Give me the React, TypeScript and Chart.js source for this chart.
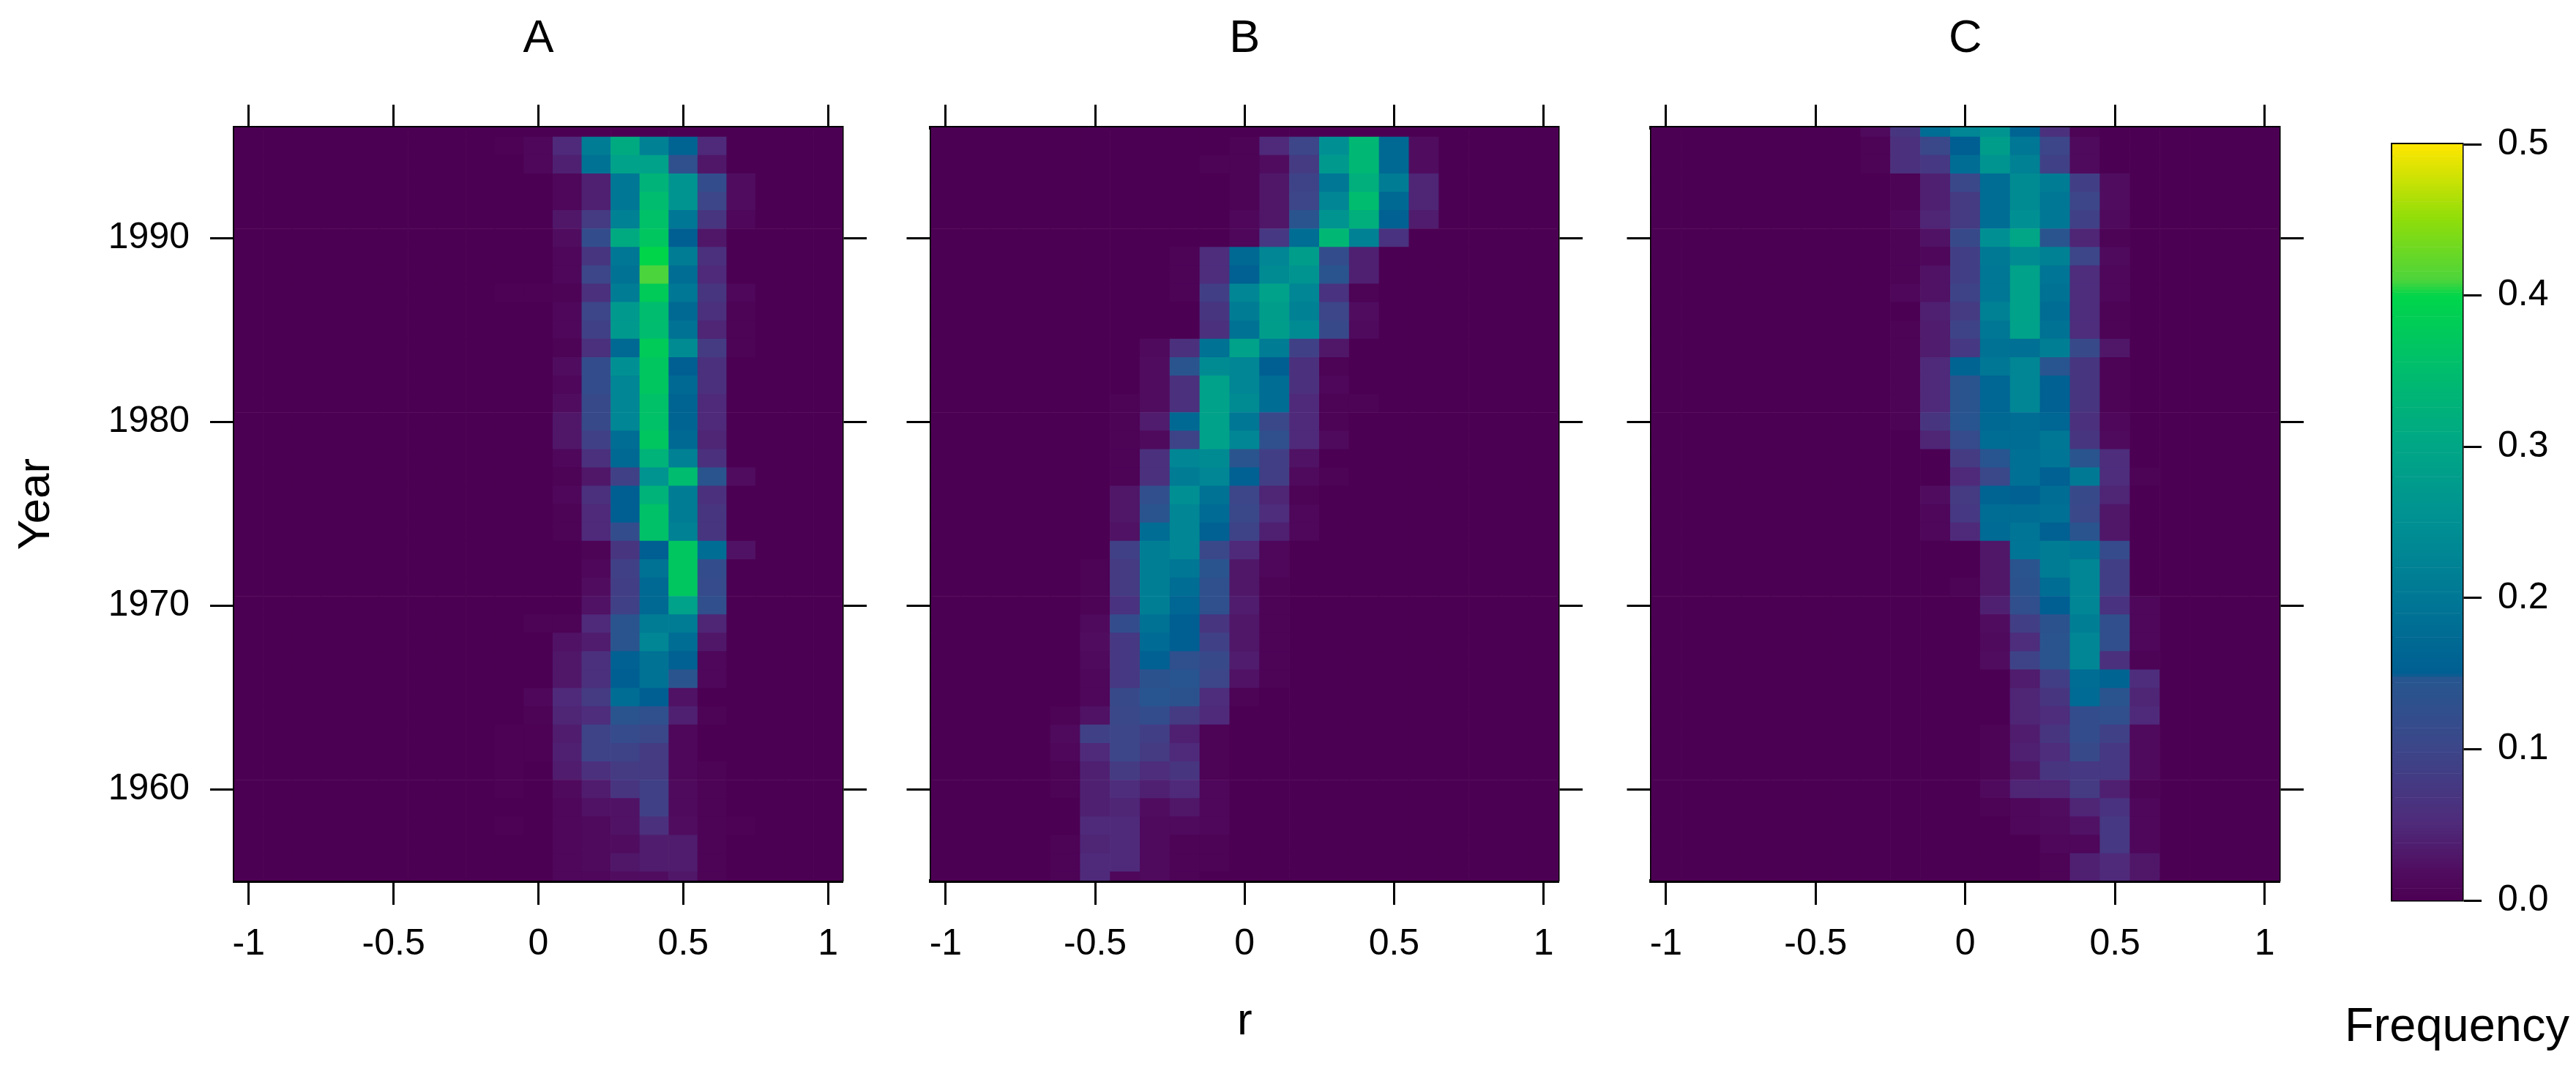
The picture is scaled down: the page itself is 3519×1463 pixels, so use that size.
import React, { useEffect, useRef } from "react";
import { Chart, registerables } from "chart.js";

Chart.register(...registerables);

const FONT = '"Liberation Sans", Arial, sans-serif';

// Row labels and column centres of the 2D histograms
const years = [1996, 1995, 1994, 1993, 1992, 1991, 1990, 1989, 1988, 1987, 1986, 1985, 1984, 1983, 1982, 1981, 1980, 1979, 1978, 1977, 1976, 1975, 1974, 1973, 1972, 1971, 1970, 1969, 1968, 1967, 1966, 1965, 1964, 1963, 1962, 1961, 1960, 1959, 1958, 1957, 1956, 1955];
const allR = [-1, -0.9, -0.8, -0.7, -0.6, -0.5, -0.4, -0.3, -0.2, -0.1, 0, 0.1, 0.2, 0.3, 0.4, 0.5, 0.6, 0.7, 0.8, 0.9, 1];

const xTicks = [-1, -0.5, 0, 0.5, 1];
const yTicks = [1960, 1970, 1980, 1990];
const freqTicks = [0, 0.1, 0.2, 0.3, 0.4, 0.5];

// Frequencies in percent. Each row is one year, from 1996 down to 1955.
const rColsA = [-0.1, 0, 0.1, 0.2, 0.3, 0.4, 0.5, 0.6, 0.7];
const freqA = [
  [0, 0, 0, 0, 0, 0, 0, 0, 0],
  [0.3, 1, 5, 21, 31, 22, 16, 5, 0],
  [0, 1, 4, 19, 29, 29, 13, 3, 0],
  [0, 0, 1, 4, 20, 33, 26, 12, 2],
  [0, 0, 1, 4, 20, 35, 26, 10, 2],
  [0, 0, 3, 8, 22, 36, 20, 7, 1],
  [0, 0, 2, 12, 31, 37, 15, 3, 0],
  [0, 0, 1, 7, 20, 40, 21, 6, 0],
  [0, 0, 1, 10, 19, 41, 18, 5, 0],
  [0.3, 0.3, 0.5, 6, 21, 38, 20, 7, 1],
  [0, 0, 1, 10, 27, 35, 17, 6, 0.5],
  [0, 0, 1, 9, 27, 35, 19, 4.5, 0.5],
  [0, 0, 0.5, 6, 17, 38, 24, 8, 0.5],
  [0, 0, 2, 12, 25, 37, 15, 6, 0],
  [0, 0, 1, 12, 23, 37, 17, 6, 0],
  [0, 0, 2, 11, 23, 36, 16, 5, 0],
  [0, 0, 3, 11, 23, 36, 16, 5, 0],
  [0, 0, 3, 9, 18, 37, 17, 4.5, 0],
  [0, 0, 1, 6, 17, 33, 22, 6, 0],
  [0, 0, 0.5, 3, 9, 26, 35, 14, 2],
  [0, 0, 1, 6, 15, 33, 21, 6, 0],
  [0, 0, 0.5, 5, 15, 36, 21, 7, 0],
  [0, 0, 0.5, 5, 12, 36, 22, 7, 0],
  [0, 0, 0, 0.5, 7, 15, 37, 18, 2.5],
  [0, 0, 0, 1, 9, 19, 37, 12, 0],
  [0, 0, 0, 2, 8.5, 17, 37, 11.5, 0],
  [0, 0, 0, 2.5, 9, 17, 29, 12.5, 0],
  [0, 0.5, 0.5, 5, 14, 21, 21, 4.5, 0],
  [0, 0, 2.5, 3.5, 14, 23, 18, 3, 0],
  [0, 0, 3, 6, 15.5, 19, 15.5, 1, 0],
  [0, 0, 3, 6, 15, 19, 14, 1, 0],
  [0, 1, 5, 8, 18, 15, 2.5, 0, 0],
  [0, 0.5, 4.5, 5.5, 14, 13, 4, 0.5, 0],
  [0.3, 0.3, 3.5, 9.5, 11.5, 10.5, 1, 0, 0],
  [0.3, 0.3, 4, 9.5, 9.5, 8, 1, 0, 0],
  [0.3, 0, 3.5, 6, 8, 8, 1, 0.5, 0],
  [0.3, 0, 1.5, 3.5, 7, 9, 1.5, 0.5, 0],
  [0, 0, 1, 2.5, 2.5, 9, 1.5, 0.5, 0],
  [0.3, 0, 1, 1.5, 2.5, 6, 2, 0.5, 0.3],
  [0, 0, 1, 1.5, 2, 3.5, 3.5, 0.5, 0],
  [0, 0, 1, 1.5, 3, 3.5, 3.5, 0.5, 0],
  [0, 0, 1, 1, 2, 2, 3, 0.5, 0],
];

const rColsB = [-0.6, -0.5, -0.4, -0.3, -0.2, -0.1, 0, 0.1, 0.2, 0.3, 0.4, 0.5, 0.6];
const freqB = [
  [0, 0, 0, 0, 0, 0, 0, 0, 0, 0, 0, 0, 0],
  [0, 0, 0, 0, 0, 0, 0.5, 5, 10, 25, 34, 17, 2],
  [0, 0, 0, 0, 0, 0.5, 0.5, 2, 8, 27, 34, 17, 2],
  [0, 0, 0, 0, 0, 0, 0.5, 3, 9.5, 20, 32, 21, 4.5],
  [0, 0, 0, 0, 0, 0, 0.5, 3, 10, 23, 35, 17, 4.5],
  [0, 0, 0, 0, 0, 0, 1, 3, 14, 26, 32, 15.5, 3.5],
  [0, 0, 0, 0, 0, 0, 1, 7.5, 18, 34, 22, 6.5, 0],
  [0, 0, 0, 0, 0.5, 5.5, 17, 23, 28, 12, 4, 0, 0],
  [0, 0, 0, 0, 0.5, 5.5, 15.5, 24, 26, 14, 4, 0, 0],
  [0, 0, 0, 0, 0.5, 8.5, 23, 29, 23, 6.5, 0.5, 0, 0],
  [0, 0, 0, 0, 0, 7, 21, 28, 22, 10, 2, 0, 0],
  [0, 0, 0, 0, 0, 6, 19, 28, 24, 11, 1.5, 0, 0],
  [0, 0, 0, 1.5, 6, 19, 29, 21, 9, 3, 0, 0, 0],
  [0, 0, 0, 2, 14, 24, 23, 15, 6, 0.5, 0, 0, 0],
  [0, 0, 0, 2, 6, 29, 23, 18, 6, 1, 0, 0, 0],
  [0, 0, 0.5, 2, 6, 29, 24, 18, 5, 0.5, 0.5, 0, 0],
  [0, 0, 0.5, 3.5, 17, 29, 20, 10.5, 5, 0.5, 0, 0, 0],
  [0, 0, 0.5, 1.5, 9.5, 29, 23, 13, 5, 1.5, 0, 0, 0],
  [0, 0, 0.5, 6, 23, 24, 14, 8.5, 2.5, 0, 0, 0, 0],
  [0, 0, 0.5, 6, 21, 23, 15.5, 8.5, 1.5, 0.5, 0, 0, 0],
  [0, 0, 3, 12.5, 25, 19, 10, 4.5, 0.5, 0, 0, 0, 0],
  [0, 0, 3, 14, 23, 17.5, 10.5, 5.5, 1, 0, 0, 0, 0],
  [0, 0, 2.5, 18, 23, 15.5, 9.5, 4, 1, 0, 0, 0, 0],
  [0, 0, 9, 21.5, 23, 10.5, 5, 1, 0, 0, 0, 0, 0],
  [0, 0.5, 8, 21.5, 20, 14, 3, 1, 0, 0, 0, 0, 0],
  [0, 0.5, 8, 21.5, 18, 13, 3, 0.5, 0, 0, 0, 0, 0],
  [0, 0.5, 6.5, 21.5, 16.5, 13, 3.5, 0.5, 0, 0, 0, 0, 0],
  [0, 1.5, 12, 19, 15, 7, 3, 0.5, 0, 0, 0, 0, 0],
  [0, 2, 7.5, 17.5, 15, 9, 3, 0.5, 0, 0, 0, 0, 0],
  [0, 1.5, 7.5, 15.5, 13, 11, 3.5, 0.5, 0, 0, 0, 0, 0],
  [0, 1, 7.5, 13.5, 14.5, 10, 2.5, 0.5, 0, 0, 0, 0, 0],
  [0, 1, 11, 14.5, 13.5, 5.5, 0.5, 0, 0, 0, 0, 0, 0],
  [0.5, 2.5, 10.5, 12, 8, 5, 0, 0, 0, 0, 0, 0, 0],
  [1.5, 9, 10, 8.5, 4, 0.5, 0, 0, 0, 0, 0, 0, 0],
  [1, 5, 10, 8, 5, 0.5, 0, 0, 0, 0, 0, 0, 0],
  [0.5, 4, 8, 5.5, 7, 0.5, 0, 0, 0, 0, 0, 0, 0],
  [0.5, 4, 5.5, 4, 5, 1, 0, 0, 0, 0, 0, 0, 0],
  [0, 4, 4.5, 2, 3, 1, 0, 0, 0, 0, 0, 0, 0],
  [0, 5, 5, 1.5, 1.5, 1, 0, 0, 0, 0, 0, 0, 0],
  [0.5, 4.5, 5, 1.5, 0.5, 0.5, 0, 0, 0, 0, 0, 0, 0],
  [0.5, 5, 5, 1.5, 0.5, 0.5, 0, 0, 0, 0, 0, 0, 0],
  [0.5, 5, 1, 1.5, 0.5, 0, 0, 0, 0, 0, 0, 0, 0],
];

const rColsC = [-0.3, -0.2, -0.1, 0, 0.1, 0.2, 0.3, 0.4, 0.5, 0.6];
const freqC = [
  [1.5, 7, 18, 23, 26, 16, 6, 0.5, 0, 0],
  [0.5, 6, 10.5, 15, 28, 20, 10, 1.5, 0, 0],
  [0.5, 6, 7.5, 18, 26, 22, 9, 1.5, 0, 0],
  [0, 0.5, 4, 10.5, 18, 24, 21, 8.5, 2, 0],
  [0, 0.5, 4, 8, 18, 24, 20, 10, 2, 0],
  [0, 1, 4.5, 8, 18, 25, 20, 9, 1.5, 0],
  [0, 0.5, 2.5, 11, 25, 30, 14, 4.5, 0.5, 0],
  [0, 0.5, 1, 8.5, 20.5, 24, 22, 10, 1.5, 0],
  [0, 0.5, 2.5, 8.5, 20, 29, 19.5, 5.5, 1, 0],
  [0, 1, 2.5, 9.5, 20, 29, 19, 5.5, 1, 0],
  [0, 0, 4, 8, 22, 29, 18, 5.5, 0.5, 0],
  [0, 0.5, 3.5, 9.5, 20, 29, 19, 5.5, 0.5, 0],
  [0, 0.5, 3.5, 7.5, 19, 18.5, 21.5, 11, 3, 0],
  [0, 0.5, 5, 16, 20, 23, 14.5, 7, 0.5, 0],
  [0, 0.5, 5, 14, 16.5, 23, 15.5, 7, 0.5, 0],
  [0, 0.5, 5, 14, 16.5, 23, 15.5, 7, 0.5, 0],
  [0, 0.5, 7, 14.5, 17, 18, 16.5, 6, 1, 0],
  [0, 0, 4.5, 11.5, 18, 18, 20, 7, 1.5, 0],
  [0, 0, 0, 8, 14.5, 18.5, 19.5, 14, 5.5, 0],
  [0, 0, 0, 5, 10.5, 18.5, 15.5, 20.5, 5.5, 0.5],
  [0, 0, 2, 8, 16, 15.5, 18, 11, 4.5, 0],
  [0, 0, 1, 7.5, 18, 18, 18.5, 10.5, 3, 0],
  [0, 0, 1, 5, 17.5, 19.5, 15.5, 14, 3, 0],
  [0, 0, 0, 0, 3, 19.5, 21, 20, 11.5, 0],
  [0, 0, 0, 0, 3, 14, 21, 23, 8.5, 0],
  [0, 0, 0, 0.5, 3, 13.5, 18, 23, 8.5, 0],
  [0, 0, 0, 0, 4, 12.5, 15, 23, 6.5, 1],
  [0, 0, 0, 0, 2, 8.5, 13.5, 21.5, 12.5, 1],
  [0, 0, 0, 0, 1.5, 5.5, 14, 23, 12.5, 1],
  [0, 0, 0, 0, 2, 9.5, 14, 23, 6, 0.5],
  [0, 0, 0, 0, 0, 3.5, 8.5, 18, 16, 5.5],
  [0, 0, 0, 0, 0, 4.5, 7, 17.5, 14, 4.5],
  [0, 0, 0, 0, 0, 4.5, 5.5, 12, 12.5, 5],
  [0, 0, 0, 0, 0.5, 3.5, 7, 12, 9, 1.5],
  [0, 0, 0, 0, 0.5, 4, 5.5, 11, 7.5, 1.5],
  [0, 0, 0, 0, 0.5, 3, 7, 7.5, 7.5, 1.5],
  [0, 0, 0, 0, 1.5, 4.5, 4.5, 8, 4, 0.5],
  [0, 0, 0, 0, 0.5, 1, 2, 4.5, 6.5, 1],
  [0, 0, 0, 0, 0, 1, 1.5, 2.5, 7.5, 1],
  [0, 0, 0, 0, 0, 0, 1, 1, 7.5, 1],
  [0, 0, 0, 0, 0, 0, 0.5, 4, 5, 3],
  [0, 0, 0, 0, 0, 0, 0.5, 4, 5, 3],
];

// Colour key of the reference (value, colour)
const stopValues = [0, 0.02, 0.05, 0.1, 0.147, 0.15, 0.2, 0.25, 0.3, 0.35, 0.4, 0.41, 0.45, 0.5];
const stopColors = ["#4C0053", "#500D60", "#4F2A7A", "#3C4689", "#27568F", "#005F92", "#007795", "#009093", "#00A686", "#00BC6E", "#00D54A", "#4CD43C", "#8EDD0A", "#FFE600"];

function hexToRgb(h: string) {
  return [1, 3, 5].map((i) => parseInt(h.slice(i, i + 2), 16));
}

function colorOf(v: number) {
  for (let i = 1; i < stopValues.length; i++) {
    if (v <= stopValues[i]) {
      const t = (v - stopValues[i - 1]) / (stopValues[i] - stopValues[i - 1]);
      const a = hexToRgb(stopColors[i - 1]);
      const b = hexToRgb(stopColors[i]);
      const c = a.map((x, k) => Math.round(x + (b[k] - x) * t));
      return `rgb(${c[0]},${c[1]},${c[2]})`;
    }
  }
  return stopColors[stopColors.length - 1];
}

function cells(cols: number[], matrix: number[][]) {
  const pts: { x: number; y: number[]; v: number }[] = [];
  years.forEach((yr, i) => {
    allR.forEach((r) => {
      const j = cols.indexOf(r);
      const v = j >= 0 ? matrix[i][j] / 100 : 0;
      pts.push({ x: r, y: [yr - 0.5, yr + 0.5], v });
    });
  });
  return pts;
}

const tickGrid = (len: number, width = 3) => ({
  display: true,
  offset: false,
  drawOnChartArea: false,
  drawTicks: true,
  tickLength: len,
  tickWidth: width,
  tickColor: "#000",
});
const frameH = { display: true, color: "#000", width: 5 };
const frameV = { display: true, color: "#000", width: 3.5 };

type PanelDef = {
  cols: number[];
  matrix: number[][];
  title: string;
  canvasLeft: number;
  canvasWidth: number;
  left: number;
  right: number;
  showYLabels?: boolean;
  xTitle?: string;
  yTitle?: string;
};

const TOP = 174;
const BOTTOM = 1203;
const H = 1463;

const panels: PanelDef[] = [
  { cols: rColsA, matrix: freqA, title: "A", canvasLeft: 0, canvasWidth: 1200, left: 320, right: 1151, showYLabels: true, yTitle: "Year" },
  { cols: rColsB, matrix: freqB, title: "B", canvasLeft: 1200, canvasWidth: 980, left: 1271.5, right: 2129, xTitle: "r" },
  { cols: rColsC, matrix: freqC, title: "C", canvasLeft: 2190, canvasWidth: 980, left: 2255.5, right: 3114 },
];

function Panel({ p }: { p: PanelDef }) {
  const ref = useRef<HTMLCanvasElement>(null);
  useEffect(() => {
    const pts = cells(p.cols, p.matrix);
    const fixW = (w: number) => (s: any) => { s.width = w; };
    const fixH = (h: number) => (s: any) => { s.height = h; };
    const xRange = { type: "linear", min: -1.05, max: 1.05, offset: false };
    const yRange = { type: "linear", min: 1955.02, max: 1996.02 };
    const setX = (s: any) => { s.ticks = xTicks.map((value) => ({ value })); };
    const setY = (s: any) => { s.ticks = yTicks.map((value) => ({ value })); };
    const chart = new Chart(ref.current as HTMLCanvasElement, {
      type: "bar",
      data: {
        datasets: [{
          data: pts as any,
          backgroundColor: pts.map((c) => colorOf(c.v)),
          barPercentage: 1,
          categoryPercentage: 1,
          grouped: false,
          borderWidth: 0,
          xAxisID: "x",
          yAxisID: "y",
        }],
      },
      options: {
        animation: false,
        responsive: false,
        layout: { padding: 0 },
        plugins: { legend: { display: false }, title: { display: false }, tooltip: { enabled: false } },
        scales: {
          x: {
            ...xRange, position: "bottom", afterBuildTicks: setX, afterFit: fixH(H - BOTTOM),
            grid: tickGrid(33), border: frameH,
            ticks: { color: "#000", font: { family: FONT, size: 50 }, padding: 24, maxRotation: 0, autoSkip: false, callback: (v: any) => String(v) },
            title: p.xTitle ? { display: true, text: p.xTitle, color: "#000", font: { family: FONT, size: 62, lineHeight: 1 }, padding: { top: 0, bottom: 36 } } : { display: false },
          },
          xTop: {
            ...xRange, position: "top", afterBuildTicks: setX, afterFit: fixH(TOP),
            grid: tickGrid(31), border: frameH,
            ticks: { display: false },
            title: { display: true, text: p.title, color: "#000", font: { family: FONT, size: 63, lineHeight: 1 }, padding: { top: 22, bottom: 22 } },
          },
          y: {
            ...yRange, position: "left", afterBuildTicks: setY, afterFit: fixW(p.left - p.canvasLeft),
            grid: tickGrid(33), border: frameV,
            ticks: { display: !!p.showYLabels, color: "#000", font: { family: FONT, size: 50 }, padding: 28, autoSkip: false, callback: (v: any) => String(v) },
            title: p.yTitle ? { display: true, text: p.yTitle, color: "#000", font: { family: FONT, size: 62, lineHeight: 1 }, padding: { top: 19, bottom: 19 } } : { display: false },
          },
          yRight: {
            ...yRange, position: "right", afterBuildTicks: setY, afterFit: fixW(p.canvasLeft + p.canvasWidth - p.right),
            grid: tickGrid(33), border: frameV,
            ticks: { display: false },
          },
        },
      } as any,
    });
    return () => chart.destroy();
  }, [p]);
  return (
    <canvas
      ref={ref}
      width={p.canvasWidth}
      height={H}
      style={{ position: "absolute", left: p.canvasLeft, top: 0, width: p.canvasWidth, height: H }}
    />
  );
}

function ColorKey() {
  const ref = useRef<HTMLCanvasElement>(null);
  useEffect(() => {
    const levels: { x: string; y: number[]; v: number }[] = [];
    for (let i = 0; i < 250; i++) {
      const lo = i * 0.002;
      levels.push({ x: "key", y: [lo, lo + 0.002], v: lo + 0.001 });
    }
    const canvasLeft = 3200;
    const canvasRight = 3510;
    const keyLeft = 3268;
    const keyRight = 3364;
    const keyTop = 197;
    const keyBottom = 1230;
    const titleBox = 65 + 26;
    const chart = new Chart(ref.current as HTMLCanvasElement, {
      type: "bar",
      data: {
        labels: ["key"],
        datasets: [{
          data: levels as any,
          backgroundColor: levels.map((c) => colorOf(c.v)),
          barPercentage: 1,
          categoryPercentage: 1,
          grouped: false,
          borderWidth: 0,
        }],
      },
      options: {
        animation: false,
        responsive: false,
        layout: { padding: 0 },
        plugins: {
          legend: { display: false },
          tooltip: { enabled: false },
          title: {
            display: true, position: "bottom", align: "end", text: "Frequency", color: "#000",
            font: { family: FONT, size: 65, weight: "normal", lineHeight: 1 }, padding: { top: 0, bottom: 26 },
          },
        },
        scales: {
          x: {
            type: "category", position: "bottom", afterFit: (s: any) => { s.height = H - keyBottom - titleBox; },
            grid: { display: false }, border: { ...frameV }, ticks: { display: false },
          },
          xTop: {
            type: "category", labels: ["key"], position: "top", afterFit: (s: any) => { s.height = keyTop; },
            grid: { display: false }, border: { ...frameV }, ticks: { display: false },
          },
          yLeft: {
            type: "linear", min: 0, max: 0.5, position: "left", afterFit: (s: any) => { s.width = keyLeft - canvasLeft; },
            grid: { display: false }, border: { ...frameV, width: 5 }, ticks: { display: false },
          },
          y: {
            type: "linear", min: 0, max: 0.5, position: "right",
            afterBuildTicks: (s: any) => { s.ticks = freqTicks.map((value) => ({ value })); },
            afterFit: (s: any) => { s.width = canvasRight - keyRight; },
            grid: tickGrid(26, 3), border: { ...frameV },
            ticks: { color: "#000", font: { family: FONT, size: 50 }, padding: 22, autoSkip: false, callback: (v: any) => Number(v).toFixed(1) },
          },
        },
      } as any,
    });
    return () => chart.destroy();
  }, []);
  return (
    <canvas
      ref={ref}
      width={310}
      height={H}
      style={{ position: "absolute", left: 3200, top: 0, width: 310, height: H }}
    />
  );
}

export default function App() {
  return (
    <div style={{ position: "absolute", left: 0, top: 0, width: 3519, height: H, background: "#fff", overflow: "hidden" }}>
      {panels.map((p) => <Panel key={p.title} p={p} />)}
      <ColorKey />
    </div>
  );
}
